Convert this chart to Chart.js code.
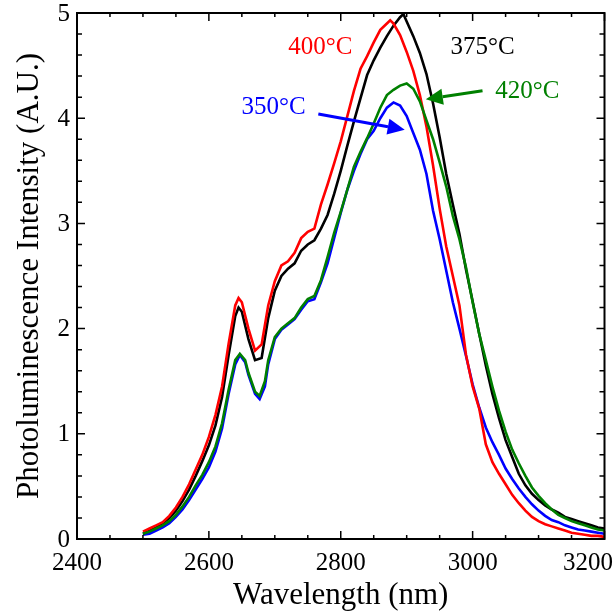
<!DOCTYPE html>
<html><head><meta charset="utf-8">
<script src="https://cdn.jsdelivr.net/npm/chart.js@4/dist/chart.umd.min.js"></script>
<style>html,body{margin:0;padding:0;background:#fff;}canvas{display:block;}</style>
</head><body>
<canvas id="c" width="615" height="614"></canvas>
<script>
// ---- data ----
const wl350 = [2500,2510,2520,2530,2540,2550,2560,2570,2580,2590,2600,2610,2620,2630,2640,2647,2655,2660,2670,2677,2685,2690,2700,2710,2720,2730,2740,2750,2760,2770,2780,2790,2800,2810,2820,2830,2840,2850,2860,2870,2880,2890,2900,2910,2920,2930,2940,2950,2960,2970,2980,2990,3000,3010,3020,3030,3040,3050,3060,3070,3080,3090,3100,3110,3120,3130,3140,3150,3160,3170,3180,3190,3200];
const pl350 = [0.04,0.05,0.08,0.11,0.15,0.21,0.28,0.37,0.47,0.57,0.68,0.83,1.05,1.38,1.66,1.75,1.68,1.56,1.38,1.33,1.45,1.66,1.90,1.99,2.04,2.09,2.18,2.26,2.28,2.44,2.62,2.86,3.10,3.32,3.50,3.66,3.80,3.88,4.00,4.10,4.15,4.12,4.02,3.86,3.70,3.47,3.12,2.85,2.55,2.25,2.00,1.74,1.47,1.25,1.06,0.92,0.80,0.67,0.57,0.48,0.40,0.33,0.27,0.22,0.18,0.16,0.13,0.11,0.09,0.08,0.07,0.06,0.05];

const wl375 = [2500,2510,2520,2530,2540,2550,2560,2570,2580,2590,2600,2610,2620,2630,2640,2645,2650,2660,2670,2680,2690,2700,2710,2720,2730,2740,2750,2760,2770,2780,2790,2800,2810,2820,2830,2840,2850,2860,2870,2880,2890,2895,2900,2910,2920,2930,2940,2950,2960,2970,2980,2990,3000,3010,3020,3030,3040,3050,3060,3070,3080,3090,3100,3110,3120,3130,3140,3150,3160,3170,3180,3190,3200];
const pl375 = [0.05,0.08,0.12,0.15,0.20,0.27,0.36,0.47,0.60,0.74,0.89,1.08,1.35,1.75,2.12,2.20,2.16,1.90,1.70,1.72,2.10,2.36,2.50,2.57,2.62,2.74,2.80,2.84,2.95,3.08,3.28,3.50,3.74,3.97,4.19,4.41,4.55,4.67,4.78,4.88,4.96,4.99,4.92,4.78,4.62,4.42,4.14,3.82,3.47,3.18,2.90,2.56,2.26,1.95,1.65,1.38,1.15,0.94,0.78,0.62,0.51,0.43,0.37,0.32,0.28,0.25,0.21,0.19,0.17,0.15,0.13,0.11,0.10];

const wl400 = [2500,2510,2520,2530,2540,2550,2560,2570,2580,2590,2600,2610,2620,2630,2640,2645,2650,2660,2670,2680,2690,2700,2710,2720,2730,2740,2750,2760,2770,2780,2790,2800,2810,2820,2830,2840,2850,2860,2870,2875,2880,2890,2900,2910,2920,2930,2940,2950,2960,2970,2980,2990,3000,3010,3020,3030,3040,3050,3060,3070,3080,3090,3100,3110,3120,3130,3140,3150,3160,3170,3180,3190,3200];
const pl400 = [0.07,0.10,0.13,0.16,0.22,0.30,0.40,0.52,0.66,0.80,0.97,1.18,1.45,1.86,2.22,2.29,2.25,2.00,1.79,1.85,2.22,2.45,2.60,2.64,2.72,2.86,2.92,2.95,3.18,3.37,3.57,3.78,4.02,4.26,4.47,4.59,4.72,4.84,4.90,4.93,4.90,4.79,4.63,4.45,4.22,3.92,3.55,3.14,2.78,2.50,2.22,1.75,1.45,1.24,0.90,0.73,0.62,0.52,0.42,0.34,0.27,0.21,0.17,0.14,0.12,0.10,0.08,0.06,0.05,0.04,0.03,0.03,0.02];

const wl420 = [2500,2510,2520,2530,2540,2550,2560,2570,2580,2590,2600,2610,2620,2630,2640,2647,2655,2660,2670,2677,2685,2690,2700,2710,2720,2730,2740,2750,2760,2770,2780,2790,2800,2810,2820,2830,2840,2850,2860,2870,2880,2890,2900,2910,2920,2930,2940,2950,2960,2970,2980,2990,3000,3010,3020,3030,3040,3050,3060,3070,3080,3090,3100,3110,3120,3130,3140,3150,3160,3170,3180,3190,3200];
const pl420 = [0.05,0.07,0.10,0.13,0.17,0.23,0.31,0.40,0.51,0.61,0.73,0.88,1.10,1.42,1.70,1.76,1.70,1.58,1.40,1.36,1.50,1.70,1.92,2.00,2.05,2.10,2.20,2.28,2.31,2.46,2.68,2.91,3.11,3.32,3.54,3.68,3.81,3.95,4.10,4.22,4.27,4.31,4.33,4.28,4.16,3.98,3.80,3.58,3.35,3.07,2.85,2.58,2.25,1.95,1.70,1.45,1.22,1.02,0.85,0.72,0.60,0.49,0.41,0.34,0.28,0.23,0.20,0.17,0.15,0.13,0.11,0.09,0.08];

const xTickLabels = [2400,2600,2800,3000,3200];
const yTickLabels = [0,1,2,3,4,5];
const seriesNames = ['350°C','375°C','400°C','420°C'];
const seriesColors = ['#0000ff','#000000','#ff0000','#008000'];

// annotation positions in data units
const annText = [
  {t:'400°C', x:2769, y:4.67, c:'#ff0000'},
  {t:'375°C', x:3015, y:4.67, c:'#000000'},
  {t:'420°C', x:3083, y:4.25, c:'#008000'},
  {t:'350°C', x:2698, y:4.10, c:'#0000ff'}
];
const annArrows = [
  {x0:3015, y0:4.26, x1:2929, y1:4.18, c:'#008000'},
  {x0:2766, y0:4.04, x1:2897, y1:3.89, c:'#0000ff'}
];

const FONT = '"Liberation Serif", "Times New Roman", serif';
const zip = (xs, ys) => xs.map((x, i) => ({x, y: ys[i]}));

const decor = {
  id: 'decor',
  afterDatasetsDraw(chart) {
    const ctx = chart.ctx, a = chart.chartArea;
    const xs = chart.scales.x, ys = chart.scales.y;
    ctx.save();
    // annotations
    ctx.font = '25px ' + FONT;
    ctx.textAlign = 'center'; ctx.textBaseline = 'middle';
    annText.forEach(o => { ctx.fillStyle = o.c; ctx.fillText(o.t, xs.getPixelForValue(o.x), ys.getPixelForValue(o.y)); });
    annArrows.forEach(o => {
      const x0 = xs.getPixelForValue(o.x0), y0 = ys.getPixelForValue(o.y0);
      const x1 = xs.getPixelForValue(o.x1), y1 = ys.getPixelForValue(o.y1);
      const ang = Math.atan2(y1 - y0, x1 - x0), L = 17, W = 8;
      const bx = x1 - L * Math.cos(ang), by = y1 - L * Math.sin(ang);
      ctx.strokeStyle = o.c; ctx.fillStyle = o.c; ctx.lineWidth = 3;
      ctx.beginPath(); ctx.moveTo(x0, y0); ctx.lineTo(bx, by); ctx.stroke();
      ctx.beginPath(); ctx.moveTo(x1, y1);
      ctx.lineTo(bx + W * Math.sin(ang), by - W * Math.cos(ang));
      ctx.lineTo(bx - W * Math.sin(ang), by + W * Math.cos(ang));
      ctx.closePath(); ctx.fill();
    });
    // frame
    ctx.strokeStyle = '#000'; ctx.lineWidth = 2;
    ctx.strokeRect(a.left, a.top, a.right - a.left, a.bottom - a.top);
    // ticks (inward, mirrored)
    ctx.lineWidth = 1.5;
    ctx.beginPath();
    for (let v = 2400; v <= 3200; v += 50) {
      const p = xs.getPixelForValue(v); const len = (v % 200 === 0) ? 8 : 4;
      ctx.moveTo(p, a.bottom); ctx.lineTo(p, a.bottom - len);
      ctx.moveTo(p, a.top); ctx.lineTo(p, a.top + len);
    }
    for (let k = 0; k <= 25; k++) {
      const v = k * 0.2; const p = ys.getPixelForValue(v); const len = (k % 5 === 0) ? 8 : 5;
      ctx.moveTo(a.left, p); ctx.lineTo(a.left + len, p);
      ctx.moveTo(a.right, p); ctx.lineTo(a.right - len, p);
    }
    ctx.stroke();
    // x tick labels
    ctx.fillStyle = '#000'; ctx.font = '25px ' + FONT;
    ctx.textBaseline = 'alphabetic'; ctx.textAlign = 'center';
    xTickLabels.forEach(v => {
      const s = String(v); const w = ctx.measureText(s).width;
      let p = xs.getPixelForValue(v);
      if (p + w / 2 > chart.width - 2) p = chart.width - 2 - w / 2;
      ctx.fillText(s, p, 570);
    });
    // y tick labels
    ctx.textAlign = 'right'; ctx.textBaseline = 'middle';
    yTickLabels.forEach(v => ctx.fillText(String(v), a.left - 7, ys.getPixelForValue(v) + 1));
    // titles
    ctx.font = '31px ' + FONT; ctx.textAlign = 'center'; ctx.textBaseline = 'alphabetic';
    ctx.fillText('Wavelength (nm)', (a.left + a.right) / 2, 604);
    ctx.translate(38, (a.top + a.bottom) / 2); ctx.rotate(-Math.PI / 2);
    ctx.fillText('Photoluminescence Intensity (A.U.)', 0, 0);
    ctx.restore();
  }
};

const wls = [wl350, wl375, wl400, wl420];
const pls = [pl350, pl375, pl400, pl420];
const orders = [3, 2, 1, 0];

new Chart(document.getElementById('c'), {
  type: 'line',
  data: {
    datasets: seriesNames.map((n, i) => ({
      label: n, data: zip(wls[i], pls[i]), borderColor: seriesColors[i],
      borderWidth: 2.6, pointRadius: 0, tension: 0, fill: false, order: orders[i]
    }))
  },
  options: {
    responsive: false, animation: false, devicePixelRatio: 1,
    layout: { padding: { top: 13, right: 10.5, left: 0, bottom: 0 } },
    plugins: { legend: { display: false }, tooltip: { enabled: false } },
    scales: {
      x: { type: 'linear', min: 2400, max: 3200,
           ticks: { display: false }, grid: { display: false, drawTicks: false }, border: { display: false },
           afterFit: s => { s.height = 75; s.paddingLeft = 0; s.paddingRight = 0; } },
      y: { type: 'linear', min: 0, max: 5,
           ticks: { display: false }, grid: { display: false, drawTicks: false }, border: { display: false },
           afterFit: s => { s.width = 77; s.paddingTop = 0; s.paddingBottom = 0; } }
    }
  },
  plugins: [decor]
});
</script>
</body></html>
